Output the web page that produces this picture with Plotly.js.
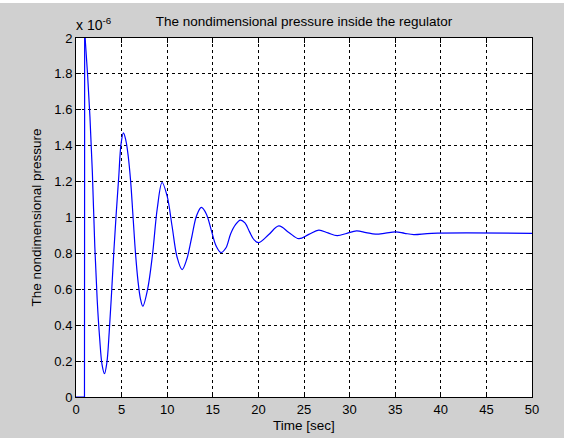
<!DOCTYPE html>
<html>
<head>
<meta charset="utf-8">
<script src="https://cdn.plot.ly/plotly-3.0.1.min.js"></script>
<style>
html,body{margin:0;padding:0;background:#d0d0d0;}
#chart{width:564px;height:438px;}
</style>
</head>
<body>
<div id="chart"></div>
<script>
// Time [sec]
const timeSec = [0, 0.93, 0.95,
  1.0, 1.265, 1.53, 1.795, 2.06, 2.325, 2.59, 2.855, 3.12,
  3.38, 3.64, 3.9, 4.16, 4.42, 4.68, 4.94, 5.2,
  5.465, 5.73, 5.995, 6.26, 6.525, 6.79, 7.055, 7.32,
  7.85, 8.38, 8.91, 9.44,
  9.99, 10.54, 11.08, 11.63,
  12.16, 12.69, 13.22, 13.75,
  14.29, 14.83, 15.36, 15.9,
  16.43, 16.96, 17.49, 18.02,
  18.525, 19.03, 19.535, 20.04,
  21.14, 22.24, 23.335, 24.43, 25.525, 26.62, 27.63, 28.64, 29.7, 30.76,
  31.8, 32.84, 33.935, 35.03, 36.035, 37.04, 39.0, 50];
// Nondimensional pressure (x 1e-6)
const pressure = [0, 0, 2.0,
  2.0, 1.8, 1.56, 1.25, 0.84, 0.54, 0.33, 0.18, 0.13,
  0.19, 0.36, 0.58, 0.82, 1.03, 1.22, 1.41, 1.471,
  1.43, 1.34, 1.2, 1.0, 0.8, 0.65, 0.55, 0.506,
  0.6, 0.79, 1.05, 1.195,
  1.12, 0.95, 0.78, 0.71,
  0.77, 0.89, 1.01, 1.056,
  1.02, 0.93, 0.842, 0.805,
  0.83, 0.91, 0.96, 0.985,
  0.97, 0.92, 0.875, 0.86,
  0.905, 0.953, 0.917, 0.882, 0.906, 0.93, 0.914, 0.899, 0.912, 0.925,
  0.916, 0.907, 0.913, 0.92, 0.912, 0.905, 0.912, 0.912];

const xTicks = [0, 5, 10, 15, 20, 25, 30, 35, 40, 45, 50];
const yTicks = [0, 0.2, 0.4, 0.6, 0.8, 1, 1.2, 1.4, 1.6, 1.8, 2];
const yTickText = ['0', '0.2', '0.4', '0.6', '0.8', '1', '1.2', '1.4', '1.6', '1.8', '2'];

const stepEnd = 3; // initial step drawn straight
const traces = [
  {x: timeSec.slice(0, stepEnd + 1), y: pressure.slice(0, stepEnd + 1), mode: 'lines',
   line: {color: '#0000ff', width: 1.2, shape: 'linear'}, showlegend: false, hoverinfo: 'none'},
  {x: timeSec.slice(stepEnd), y: pressure.slice(stepEnd), mode: 'lines',
   line: {color: '#0000ff', width: 1.2, shape: 'spline', smoothing: 1}, showlegend: false, hoverinfo: 'none'}
];

const FONT = 'Liberation Sans, Arial, sans-serif';
const axisCommon = {
  showline: true, linecolor: '#000', linewidth: 1, mirror: 'ticks',
  ticks: 'inside', ticklen: 5, tickcolor: '#000',
  showgrid: true, gridcolor: '#000', gridwidth: 1, griddash: '3px,3px',
  zeroline: false, fixedrange: true,
  tickfont: {family: FONT, size: 13, color: '#000'}
};

const layout = {
  width: 564, height: 438,
  paper_bgcolor: '#d0d0d0', plot_bgcolor: '#ffffff',
  margin: {l: 76, r: 32, t: 38, b: 41, pad: 0},
  font: {family: FONT, size: 13, color: '#000'},
  title: {text: 'The nondimensional pressure inside the regulator', x: 0.5, xref: 'paper', xanchor: 'center',
          y: 1 - 21 / 438, yanchor: 'middle', font: {size: 13.5, color: '#000'}},
  xaxis: Object.assign({}, axisCommon, {range: [0, 50], tickvals: xTicks, ticktext: xTicks.map(String),
          title: {text: 'Time [sec]', standoff: 4, font: {size: 13.5}}}),
  yaxis: Object.assign({}, axisCommon, {range: [0, 2], tickvals: yTicks, ticktext: yTickText,
          title: {text: 'The nondimensional pressure', standoff: 9, font: {size: 13.5}}}),
  annotations: [{text: 'x 10<sup>-6</sup>', xref: 'paper', yref: 'paper', x: 0, y: 1, xanchor: 'left', yanchor: 'bottom',
                 xshift: -2, yshift: 3, showarrow: false, font: {size: 14, color: '#000'}}],
  shapes: [{type: 'rect', xref: 'paper', yref: 'paper', x0: -0.2, x1: 1.1, y0: 1 + 35 / 359, y1: 1 + 38 / 359,
            fillcolor: '#ffffff', line: {width: 0}, layer: 'below'}]
};

Plotly.newPlot('chart', traces, layout, {displayModeBar: false, staticPlot: true});
</script>
</body>
</html>
